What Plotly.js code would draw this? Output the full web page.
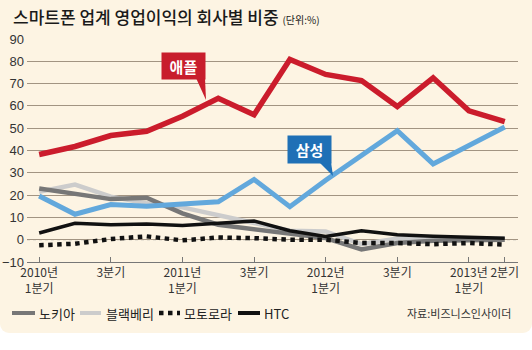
<!DOCTYPE html>
<html><head><meta charset="utf-8">
<script src="https://cdn.plot.ly/plotly-3.0.1.min.js"></script>
<style>
body{margin:0;background:#fff;}
#bg{position:absolute;left:0;top:0;width:532px;height:333px;background:#fdf4e3;border-radius:0 0 9px 9px;}
#chart{position:absolute;left:0;top:0;width:532px;height:350px;}
</style></head>
<body>
<div id="bg"></div>
<div id="chart"></div>
<script>
// quarters 2010Q1 .. 2013Q2
const quarters = ["2010Q1","2010Q2","2010Q3","2010Q4","2011Q1","2011Q2","2011Q3","2011Q4","2012Q1","2012Q2","2012Q3","2012Q4","2013Q1","2013Q2"];
const tickIdx = [0,2,4,6,8,10,12,13];
const tickText = ["2010년<br>1분기","3분기","2011년<br>1분기","3분기","2012년<br>1분기","3분기","2013년<br>1분기","2분기"];

const apple      = [38.2, 41.8, 46.7, 48.6, 55.4, 63.4, 56.0, 80.8, 74.1, 71.4, 59.7, 72.6, 57.8, 52.9];
const samsung    = [19.6, 11.4, 15.8, 15.0, 16.0, 17.0, 27.0, 14.8, 26.7, 38.0, 48.9, 34.0, 42.5, 50.5];
const nokia      = [23.0, 20.7, 18.2, 18.8, 11.8, 6.7, 4.7, 3.0, 0.7, -4.4, -1.5, -0.5, 0.0, 0.0];
const blackberry = [21.5, 24.7, 19.3, 16.3, 14.5, 11.0, 7.5, 4.0, 3.7, -2.0, 0.5, 0.5, 0.5, 0.5];
const htc        = [3.0, 7.4, 6.7, 7.0, 6.4, 7.4, 8.4, 4.0, 1.5, 4.0, 2.2, 1.5, 1.0, 0.7];
const motorola   = [-2.5, -1.8, 0.3, 1.5, -0.3, 1.0, 0.7, 0.0, 0.0, -1.5, -1.5, -2.0, -1.5, -2.2];

const names = {apple:"애플", samsung:"삼성", nokia:"노키아", blackberry:"블랙베리", motorola:"모토로라", htc:"HTC"};

const xs = quarters.map((q,i)=>i);
const C = {apple:"#cb1c2c", samsung:"#62a8dc", nokia:"#777777", blackberry:"#cccccc", htc:"#111111", motorola:"#111111"};

function tr(y, key, w, dash){
  return {x: xs, y: y, type:"scatter", mode:"lines", name: names[key],
    line:{color:C[key], width:w, dash: dash||"solid"}, hoverinfo:"skip", showlegend:false};
}
const traces = [
  tr(blackberry,"blackberry",4.5),
  tr(nokia,"nokia",4.5),
  tr(samsung,"samsung",5),
  tr(htc,"htc",3.5),
  tr(motorola,"motorola",4.5,"dot"),
  tr(apple,"apple",5.5)
];

// layout geometry (pixels)
const L=27, R=14, T=39, B=88, W=532, H=350;
const pw = W-L-R, ph = H-T-B;
const px = v => (v-L)/pw;
const py = v => (T+ph-v)/ph;

const shapes = [
  {type:"line", xref:"paper", yref:"y", x0:0, x1:1, y0:0, y1:0, layer:"below",
   line:{color:"#9a9a9a", width:1, dash:"dot"}},
  // callout wedges
  {type:"path", xref:"paper", yref:"paper", layer:"above",
   path:`M ${px(196)} ${py(78)} L ${px(205)} ${py(78)} L ${px(206)} ${py(100)} Z`,
   fillcolor:"#c81d2c", line:{width:0}},
  {type:"path", xref:"paper", yref:"paper", layer:"above",
   path:`M ${px(319)} ${py(162)} L ${px(331)} ${py(162)} L ${px(333)} ${py(176)} Z`,
   fillcolor:"#1f70b6", line:{width:0}}
];

// legend (drawn manually)
const legendItems = [
  {key:"nokia", x0:12, x1:35, tx:37, w:4, dash:"solid"},
  {key:"blackberry", x0:80, x1:101, tx:104, w:4, dash:"solid"},
  {key:"motorola", x0:159, x1:180, tx:182, w:4.5, dash:"dot"},
  {key:"htc", x0:238, x1:260, tx:262, w:4, dash:"solid"}
];
const annotations = [];
legendItems.forEach(it=>{
  shapes.push({type:"line", xref:"paper", yref:"paper", x0:px(it.x0), x1:px(it.x1), y0:py(313), y1:py(313),
    line:{color:C[it.key], width:it.w, dash:it.dash}});
  annotations.push({xref:"paper", yref:"paper", x:px(it.tx), y:py(313), xanchor:"left", yanchor:"middle",
    text:names[it.key], showarrow:false, font:{family:"Noto Sans CJK KR", size:13, color:"#222"}});
});

annotations.push(
  {xref:"paper", yref:"paper", x:px(11), y:py(17), xanchor:"left", yanchor:"middle", showarrow:false,
   text:'스마트폰 업계 영업이익의 회사별 비중 <span style="font-size:10px;font-weight:400">(단위:%)</span>',
   font:{family:"Noto Sans CJK KR", size:17, color:"#1a1a1a", weight:500}},
  {xref:"paper", yref:"paper", x:px(513), y:py(313), xanchor:"right", yanchor:"middle", showarrow:false,
   text:"자료:비즈니스인사이더", font:{family:"Noto Sans CJK KR", size:11, color:"#333"}},
  {xref:"paper", yref:"paper", x:px(183.5), y:py(66), xanchor:"center", yanchor:"middle", showarrow:false,
   text:"<b>애플</b>", bgcolor:"#c81d2c", width:43, height:26, borderpad:0,
   font:{family:"Noto Sans CJK KR", size:15, color:"#fff"}},
  {xref:"paper", yref:"paper", x:px(309.5), y:py(149), xanchor:"center", yanchor:"middle", showarrow:false,
   text:"<b>삼성</b>", bgcolor:"#1f70b6", width:43, height:27, borderpad:0,
   font:{family:"Noto Sans CJK KR", size:15, color:"#fff"}}
);

const layout = {
  width:W, height:H, margin:{l:L, r:R, t:T, b:B},
  paper_bgcolor:"rgba(0,0,0,0)", plot_bgcolor:"rgba(0,0,0,0)",
  showlegend:false,
  xaxis:{range:[-0.34, 13.37], tickvals:tickIdx, ticktext:tickText, showgrid:false, zeroline:false,
    showline:true, linecolor:"#777", linewidth:1, ticks:"inside", ticklen:5, tickcolor:"#777",
    tickfont:{family:"Noto Sans CJK KR", size:12, color:"#333"}, fixedrange:true},
  yaxis:{range:[-10, 90], dtick:10, showgrid:true, gridcolor:"#a29482", gridwidth:1, zeroline:false,
    showline:false, ticks:"", tickfont:{family:"Liberation Sans Narrow, Liberation Sans", size:13, color:"#333"},
    ticklabelstandoff:2, fixedrange:true},
  shapes:shapes, annotations:annotations
};

Plotly.newPlot("chart", traces, layout, {staticPlot:true, displayModeBar:false});
</script>
</body></html>
